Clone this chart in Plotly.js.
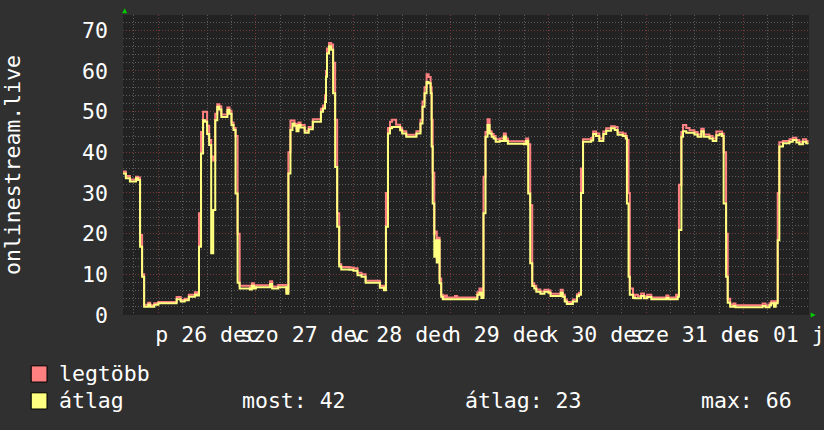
<!DOCTYPE html>
<html>
<head>
<meta charset="utf-8">
<script src="https://cdn.plot.ly/plotly-3.0.1.min.js"></script>
<style>html,body{margin:0;padding:0;background:#303030;}#chart{width:824px;height:430px;}</style>
</head>
<body>
<div id="chart"></div>
<script>
// hours relative to 2014-12-26 00:00
const hours = [-8.7,-8.0,-7.0,-6.0,-5.5,-5.0,-4.5,-4.0,-3.5,-2.5,-2.0,-1.0,0.0,4.5,5.5,6.5,7.5,9.0,9.5,10.0,10.5,11.0,11.5,12.0,12.5,13.0,13.5,14.0,14.5,15.0,15.5,17.0,17.5,18.0,18.5,19.0,19.5,20.0,22.5,23.0,23.5,24.0,27.5,28.0,29.5,31.5,32.0,32.5,33.0,33.5,34.0,34.5,35.0,36.0,37.0,38.0,40.0,40.5,41.0,41.25,41.5,42.0,42.5,43.0,43.5,44.0,44.5,45.0,47.0,48.0,49.0,50.0,51.0,54.5,55.5,56.0,56.5,57.0,57.5,58.5,59.5,60.0,61.0,63.5,64.5,65.0,65.5,66.0,66.5,67.0,67.25,67.5,67.9,68.2,68.5,68.9,69.2,69.6,70.0,70.5,71.0,73.0,73.5,78.5,79.0,79.5,80.0,80.5,81.0,81.5,82.0,82.5,83.0,84.0,85.0,85.5,86.0,90.0,90.5,91.0,91.5,92.0,92.5,93.0,94.0,95.0,96.0,96.5,99.0,99.5,100.0,100.5,102.0,103.0,103.5,104.0,104.5,106.5,107.0,107.7,108.5,109.5,110.2,111.4,112.3,113.0,114.3,115.0,115.3,115.7,116.0,116.8,117.3,118.0,118.8,119.5,120.3,121.3,125.0,125.5,127.4,127.8,128.1,128.7,129.1,129.9,130.7,131.9,132.7,133.6,134.2,135.6,136.4,137.3,138.1,138.7,139.1,139.7,140.1,140.7,141.5,142.0,148.7,149.4,150.4,150.8,151.5,151.9,152.4,152.8,153.7,155.3,156.1,157.0,157.7,158.6,159.4,160.0];
const avgVals = [34.8,33.6,32.8,32.8,33.6,33.2,16.8,9.4,2.0,2.6,2.0,2.5,2.9,3.85,3.3,3.6,4.5,5.0,4.8,16.8,39.7,47.9,47.5,44.5,41.8,15.2,25.8,47.9,51.2,50.5,48.7,50.4,49.5,46.7,45.5,29.9,7.9,6.5,6.3,7.2,6.5,6.8,7.6,6.5,6.8,5.2,34.8,45.5,47.1,46.5,45.2,46.7,46.1,44.8,45.7,47.5,50.0,50.8,52.4,58.6,64.3,66.1,65.2,54.5,36.4,21.7,11.9,11.2,11.1,10.9,9.8,9.4,7.9,6.7,6.1,21.7,44.6,45.9,46.2,46.2,45.4,44.6,43.8,44.6,47.1,51.2,54.5,57.3,57.0,54.5,41.4,27.4,14.3,18.4,12.9,18.4,7.8,4.5,3.85,3.85,3.85,3.85,3.85,5.0,5.5,4.2,25.0,43.8,46.7,44.6,43.8,43.4,42.6,42.8,43.9,42.8,42.1,42.0,42.8,29.9,12.7,7.1,6.5,5.7,5.2,5.7,5.5,4.7,5.5,4.5,3.3,2.7,3.3,4.6,5.0,30.0,42.6,42.9,44.5,44.0,42.8,44.5,45.3,45.9,45.5,44.3,44.0,43.4,27.4,9.4,5.0,4.2,4.1,4.1,4.7,4.1,4.4,3.85,4.2,3.85,3.85,4.5,20.9,43.8,45.2,44.8,44.8,44.4,43.8,45.2,43.8,43.4,42.8,44.2,44.5,44.0,27.4,9.4,3.0,2.0,2.2,1.9,2.2,1.9,2.4,2.9,2.0,2.9,18.4,41.4,42.2,42.6,43.0,42.4,42.0,42.6,42.2,42.2];
const maxVals = [35.3,34.2,33.3,33.3,34.0,33.8,19.7,10.0,2.5,3.0,2.4,2.9,3.2,4.4,3.7,4.0,5.0,5.6,5.4,25.0,45.0,50.0,50.0,46.5,43.0,39.0,38.0,49.5,51.8,51.3,49.3,51.0,50.2,47.3,46.0,44.0,20.0,7.2,6.8,7.8,7.0,7.3,8.3,7.0,7.4,5.8,40.0,47.8,47.8,47.0,45.8,47.3,46.7,45.3,46.2,48.1,50.7,51.5,54.0,60.0,65.5,66.9,66.5,62.0,48.0,25.0,12.5,11.8,11.7,11.5,10.4,10.0,8.4,7.2,6.5,30.0,46.0,47.5,48.0,46.8,46.0,45.2,44.3,45.2,48.0,52.5,56.0,59.2,58.5,56.0,48.0,35.0,20.0,20.5,18.0,19.0,9.0,5.0,4.3,4.8,4.3,4.7,4.3,5.6,6.5,4.8,34.0,45.0,48.1,45.2,44.5,44.0,43.2,43.4,44.6,43.4,42.7,42.6,43.4,42.0,27.0,7.8,7.2,6.3,5.8,6.2,6.0,5.2,6.2,5.0,3.8,3.2,3.8,5.1,5.5,36.0,43.2,43.5,45.1,44.6,43.4,45.1,45.9,46.4,46.2,44.9,44.6,44.0,43.0,30.0,6.5,4.7,5.0,4.6,5.3,4.6,5.0,4.3,4.8,4.3,5.0,5.0,32.0,45.0,46.7,46.0,45.4,45.0,44.4,45.8,44.4,44.0,43.4,45.1,45.1,44.6,40.0,20.0,4.0,2.6,2.8,2.4,2.8,2.4,2.9,3.4,2.5,3.4,30.0,42.5,42.8,43.2,43.6,43.0,42.6,43.2,42.8,42.8];

const dayLabelHours = [12, 36, 60, 84, 108, 132, 156];
const dayLabels = ['p 26 dec', 'szo 27 dec', 'v 28 dec', 'h 29 dec', 'k 30 dec', 'sze 31 dec', 'cs 01 jan'];
const seriesNames = ['legtöbb', 'átlag'];
const seriesColors = ['#ff8080', '#ffff80'];
const statNames = ['most', 'átlag', 'max'];
const statValues = [42, 23, 66];
const yTitle = 'onlinestream.live';

const FONT = 'DejaVu Sans Mono';
const FS = 21.5;
const xRange = [-8.7, 160.1];
const yRange = [0, 73.76];
const redGrid = '#7a3838';
const grayGrid = '#5c5c5c';
const dash = '1px,2px';

const traces = [
  {x: hours, y: maxVals, type: 'scatter', mode: 'lines', line: {color: seriesColors[0], width: 2, shape: 'hv'}, name: seriesNames[0], xaxis: 'x', yaxis: 'y', hoverinfo: 'skip'},
  {x: hours, y: avgVals, type: 'scatter', mode: 'lines', line: {color: seriesColors[1], width: 2, shape: 'hv'}, name: seriesNames[1], xaxis: 'x2', yaxis: 'y', hoverinfo: 'skip'}
];

// legend (custom, rrdtool style) – positions in paper units
const annotations = [];
const shapes = [];
const rowsY = [-0.1965, -0.2864];
seriesNames.forEach((n, i) => {
  shapes.push({type: 'rect', xref: 'paper', yref: 'paper', x0: -0.1338, x1: -0.1108,
    y0: rowsY[i] + 0.027, y1: rowsY[i] - 0.027, fillcolor: seriesColors[i], line: {color: '#000', width: 1}});
  annotations.push({xref: 'paper', yref: 'paper', x: -0.0955, y: rowsY[i], xanchor: 'left', yanchor: 'middle',
    text: n, showarrow: false, font: {family: FONT, size: FS, color: '#ffffff'}});
});
const statX = [0.1700, 0.4950, 0.8400];
statNames.forEach((n, i) => {
  annotations.push({xref: 'paper', yref: 'paper', x: statX[i], y: rowsY[1], xanchor: 'left', yanchor: 'middle',
    text: n + ': ' + statValues[i], showarrow: false, font: {family: FONT, size: FS, color: '#ffffff'}});
});
// green axis arrows
shapes.push({type: 'path', xref: 'paper', yref: 'paper', path: 'M -0.0012,1.0057 L 0.0061,1.0057 L 0.0025,1.0223 Z', fillcolor: '#00cc00', line: {width: 0}});
shapes.push({type: 'path', xref: 'paper', yref: 'paper', path: 'M 1.0025,0.0083 L 1.0025,-0.0083 L 1.0098,0 Z', fillcolor: '#00cc00', line: {width: 0}});

const layout = {
  width: 824, height: 430,
  margin: {l: 123, r: 15, t: 15, b: 115, pad: 0},
  paper_bgcolor: '#303030', plot_bgcolor: '#222222',
  showlegend: false,
  font: {family: FONT, size: FS, color: '#ffffff'},
  xaxis: {
    range: xRange, tickmode: 'linear', tick0: 0, dtick: 24, showticklabels: false, ticks: '',
    showgrid: true, gridcolor: redGrid, griddash: dash, gridwidth: 1, zeroline: false, showline: false,
    minor: {tick0: 0, dtick: 6, showgrid: true, gridcolor: grayGrid, griddash: dash, gridwidth: 1, ticks: ''}
  },
  xaxis2: {
    overlaying: 'x', anchor: 'y', side: 'bottom', range: xRange, tickmode: 'array', tickvals: dayLabelHours, ticktext: dayLabels,
    showgrid: false, zeroline: false, showline: false, ticks: '', tickangle: 0, ticklabeloverflow: 'allow',
    tickfont: {family: FONT, size: FS, color: '#ffffff'}, ticklabelstandoff: 4
  },
  yaxis: {
    range: yRange, tickmode: 'linear', tick0: 0, dtick: 10, ticks: '',
    showgrid: true, gridcolor: redGrid, griddash: dash, gridwidth: 1, zeroline: false, showline: false,
    minor: {tick0: 0, dtick: 2, showgrid: true, gridcolor: grayGrid, griddash: dash, gridwidth: 1, ticks: ''},
    tickfont: {family: FONT, size: FS, color: '#ffffff'}, ticklabelstandoff: 14,
    title: {text: yTitle, font: {family: FONT, size: FS, color: '#ffffff'}, standoff: 55}
  },
  annotations: annotations,
  shapes: shapes
};

Plotly.newPlot('chart', traces, layout, {staticPlot: true, displayModeBar: false});
</script>
</body>
</html>
